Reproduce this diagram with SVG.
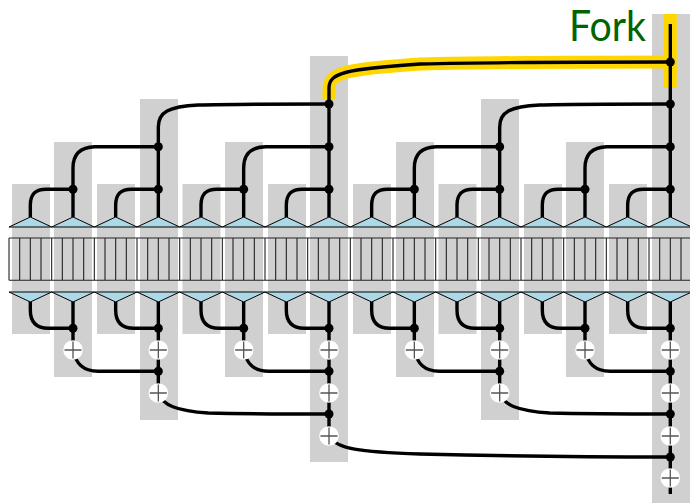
<svg xmlns="http://www.w3.org/2000/svg" width="690" height="503" viewBox="0 0 690 503">
<style>
.lane{fill:#d0d0d0}
.wire{fill:none;stroke:#000;stroke-width:3.400}
.hi{fill:none;stroke:#ffd700;stroke-width:13}
.tri{fill:#add8e6;stroke:#000;stroke-width:1}
.grid{fill:none;stroke:#222;stroke-width:1.100}
.plus{stroke:#555;stroke-width:1.300;fill:none}
.label{font-family:"Lato","Open Sans",sans-serif;font-size:42px;fill:#006400}
</style>
<defs>
<path id="u1" class="wire" d="M0 217V205C0 193 6 189.300 16 189.300H42.670"/>
<path id="u2" class="wire" d="M0 217V168C0 153 8 147 22 146.700H85.330"/>
<path id="u3" class="wire" d="M0 217V127C0 112 10 106.500 40 105C70 104 100 104 170.670 104"/>
<path id="d1" class="wire" d="M0 301V310C0 322 6 328.300 18 328.300H42.670"/>
<path id="d2" class="wire" d="M0 350C3 364 10 371 25 371.200H85.330"/>
<path id="d3" class="wire" d="M0 393C4 405 18 411 50 413C90 414 130 414 170.670 414"/>
<g id="up"><polygon class="tri" points="-21.330,227 0,217 21.330,227"/></g>
<g id="down"><polygon class="tri" points="-21.330,292 0,302 21.330,292"/></g>
<circle id="dot" r="4.500" fill="#000"/>
<g id="add"><circle r="9.800" fill="#fff"/><path class="plus" d="M-8.500 0H8.500M0-8.500V8.500"/></g>
</defs>

<g id="lanes">
<rect class="lane" x="12" y="184" width="38" height="150"/>
<rect class="lane" x="54" y="142" width="38" height="235"/>
<rect class="lane" x="97" y="184" width="38" height="150"/>
<rect class="lane" x="140" y="99" width="38" height="321"/>
<rect class="lane" x="182.500" y="184" width="38" height="150"/>
<rect class="lane" x="225" y="142" width="38" height="235"/>
<rect class="lane" x="268" y="184" width="38" height="150"/>
<rect class="lane" x="310" y="56" width="38" height="406"/>
<rect class="lane" x="353" y="184" width="38" height="150"/>
<rect class="lane" x="396" y="142" width="38" height="235"/>
<rect class="lane" x="438.500" y="184" width="38" height="150"/>
<rect class="lane" x="481" y="99" width="38" height="321"/>
<rect class="lane" x="524" y="184" width="38" height="150"/>
<rect class="lane" x="566" y="142" width="38" height="235"/>
<rect class="lane" x="609" y="184" width="38" height="150"/>
<rect class="lane" x="652" y="14" width="38" height="489"/>
</g>

<g id="fork-highlight">
<path class="hi" d="M329 99V88C329 73 345 69 420 64C500 62 600 62 670.300 62"/>
<path class="hi" d="M670.300 14V88"/>
</g>

<g id="connectors">
<use href="#u1" x="30.330"/><use href="#u1" x="115.670"/><use href="#u1" x="201"/><use href="#u1" x="286.330"/>
<use href="#u1" x="371.670"/><use href="#u1" x="457"/><use href="#u1" x="542.330"/><use href="#u1" x="627.670"/>
<use href="#u2" x="73"/><use href="#u2" x="243.670"/><use href="#u2" x="414.330"/><use href="#u2" x="585"/>
<use href="#u3" x="158.330"/><use href="#u3" x="499.670"/>
<path class="wire" d="M329 217V88C329 73 345 69 420 64C500 62 600 62 670.300 62"/>
<path class="wire" d="M670.300 24V217"/>
<use href="#d1" x="30.330"/><use href="#d1" x="115.670"/><use href="#d1" x="201"/><use href="#d1" x="286.330"/>
<use href="#d1" x="371.670"/><use href="#d1" x="457"/><use href="#d1" x="542.330"/><use href="#d1" x="627.670"/>
<path class="wire" d="M73 301V350M243.670 301V350M414.330 301V350M585 301V350"/>
<path class="wire" d="M158.330 301V393M499.670 301V393M329 301V436M670.300 301V494"/>
<use href="#d2" x="73"/><use href="#d2" x="243.670"/><use href="#d2" x="414.330"/><use href="#d2" x="585"/>
<use href="#d3" x="158.330"/><use href="#d3" x="499.670"/>
<path class="wire" d="M329 436C336 449 360 452 420 454C500 456 600 457 670.300 457"/>
</g>

<g id="permutation"><path class="grid" d="M9 238H690M9 280.300H690M9 238V280.300M19.670 238V280.300M30.330 238V280.300M41 238V280.300M51.670 238V280.300M62.330 238V280.300M73 238V280.300M83.670 238V280.300M94.330 238V280.300M105 238V280.300M115.670 238V280.300M126.330 238V280.300M137 238V280.300M147.670 238V280.300M158.330 238V280.300M169 238V280.300M179.670 238V280.300M190.330 238V280.300M201 238V280.300M211.670 238V280.300M222.330 238V280.300M233 238V280.300M243.670 238V280.300M254.330 238V280.300M265 238V280.300M275.670 238V280.300M286.330 238V280.300M297 238V280.300M307.670 238V280.300M318.330 238V280.300M329 238V280.300M339.670 238V280.300M350.330 238V280.300M361 238V280.300M371.670 238V280.300M382.330 238V280.300M393 238V280.300M403.670 238V280.300M414.330 238V280.300M425 238V280.300M435.670 238V280.300M446.330 238V280.300M457 238V280.300M467.670 238V280.300M478.330 238V280.300M489 238V280.300M499.670 238V280.300M510.330 238V280.300M521 238V280.300M531.670 238V280.300M542.330 238V280.300M553 238V280.300M563.670 238V280.300M574.330 238V280.300M585 238V280.300M595.670 238V280.300M606.330 238V280.300M617 238V280.300M627.670 238V280.300M638.330 238V280.300M649 238V280.300M659.670 238V280.300M670.330 238V280.300M681 238V280.300"/></g>

<g id="col0"><use href="#up" x="30.330"/><use href="#down" x="30.330"/></g>
<g id="col1"><use href="#up" x="73"/><use href="#down" x="73"/><use href="#dot" x="73" y="189.300"/><use href="#dot" x="73" y="328.300"/><use href="#add" x="73" y="350"/></g>
<g id="col2"><use href="#up" x="115.670"/><use href="#down" x="115.670"/></g>
<g id="col3"><use href="#up" x="158.330"/><use href="#down" x="158.330"/><use href="#dot" x="158.330" y="146.700"/><use href="#dot" x="158.330" y="189.300"/><use href="#dot" x="158.330" y="328.300"/><use href="#add" x="158.330" y="350"/><use href="#dot" x="158.330" y="371.200"/><use href="#add" x="158.330" y="393"/></g>
<g id="col4"><use href="#up" x="201"/><use href="#down" x="201"/></g>
<g id="col5"><use href="#up" x="243.670"/><use href="#down" x="243.670"/><use href="#dot" x="243.670" y="189.300"/><use href="#dot" x="243.670" y="328.300"/><use href="#add" x="243.670" y="350"/></g>
<g id="col6"><use href="#up" x="286.330"/><use href="#down" x="286.330"/></g>
<g id="col7"><use href="#up" x="329"/><use href="#down" x="329"/><use href="#dot" x="329" y="104"/><use href="#dot" x="329" y="146.700"/><use href="#dot" x="329" y="189.300"/><use href="#dot" x="329" y="328.300"/><use href="#add" x="329" y="350"/><use href="#dot" x="329" y="371.200"/><use href="#add" x="329" y="393"/><use href="#dot" x="329" y="414"/><use href="#add" x="329" y="436"/></g>
<g id="col8"><use href="#up" x="371.670"/><use href="#down" x="371.670"/></g>
<g id="col9"><use href="#up" x="414.330"/><use href="#down" x="414.330"/><use href="#dot" x="414.330" y="189.300"/><use href="#dot" x="414.330" y="328.300"/><use href="#add" x="414.330" y="350"/></g>
<g id="col10"><use href="#up" x="457"/><use href="#down" x="457"/></g>
<g id="col11"><use href="#up" x="499.670"/><use href="#down" x="499.670"/><use href="#dot" x="499.670" y="146.700"/><use href="#dot" x="499.670" y="189.300"/><use href="#dot" x="499.670" y="328.300"/><use href="#add" x="499.670" y="350"/><use href="#dot" x="499.670" y="371.200"/><use href="#add" x="499.670" y="393"/></g>
<g id="col12"><use href="#up" x="542.330"/><use href="#down" x="542.330"/></g>
<g id="col13"><use href="#up" x="585"/><use href="#down" x="585"/><use href="#dot" x="585" y="189.300"/><use href="#dot" x="585" y="328.300"/><use href="#add" x="585" y="350"/></g>
<g id="col14"><use href="#up" x="627.670"/><use href="#down" x="627.670"/></g>
<g id="col15"><use href="#up" x="670.300"/><use href="#down" x="670.300"/><use href="#dot" x="670.300" y="62"/><use href="#dot" x="670.300" y="104"/><use href="#dot" x="670.300" y="146.700"/><use href="#dot" x="670.300" y="189.300"/><use href="#dot" x="670.300" y="328.300"/><use href="#add" x="670.300" y="350"/><use href="#dot" x="670.300" y="371.200"/><use href="#add" x="670.300" y="393"/><use href="#dot" x="670.300" y="414"/><use href="#add" x="670.300" y="436"/><use href="#dot" x="670.300" y="457"/><use href="#add" x="670.300" y="478"/></g>

<g id="fork-label"><text class="label" x="569" y="41" textLength="77" lengthAdjust="spacingAndGlyphs">Fork</text></g>
</svg>
